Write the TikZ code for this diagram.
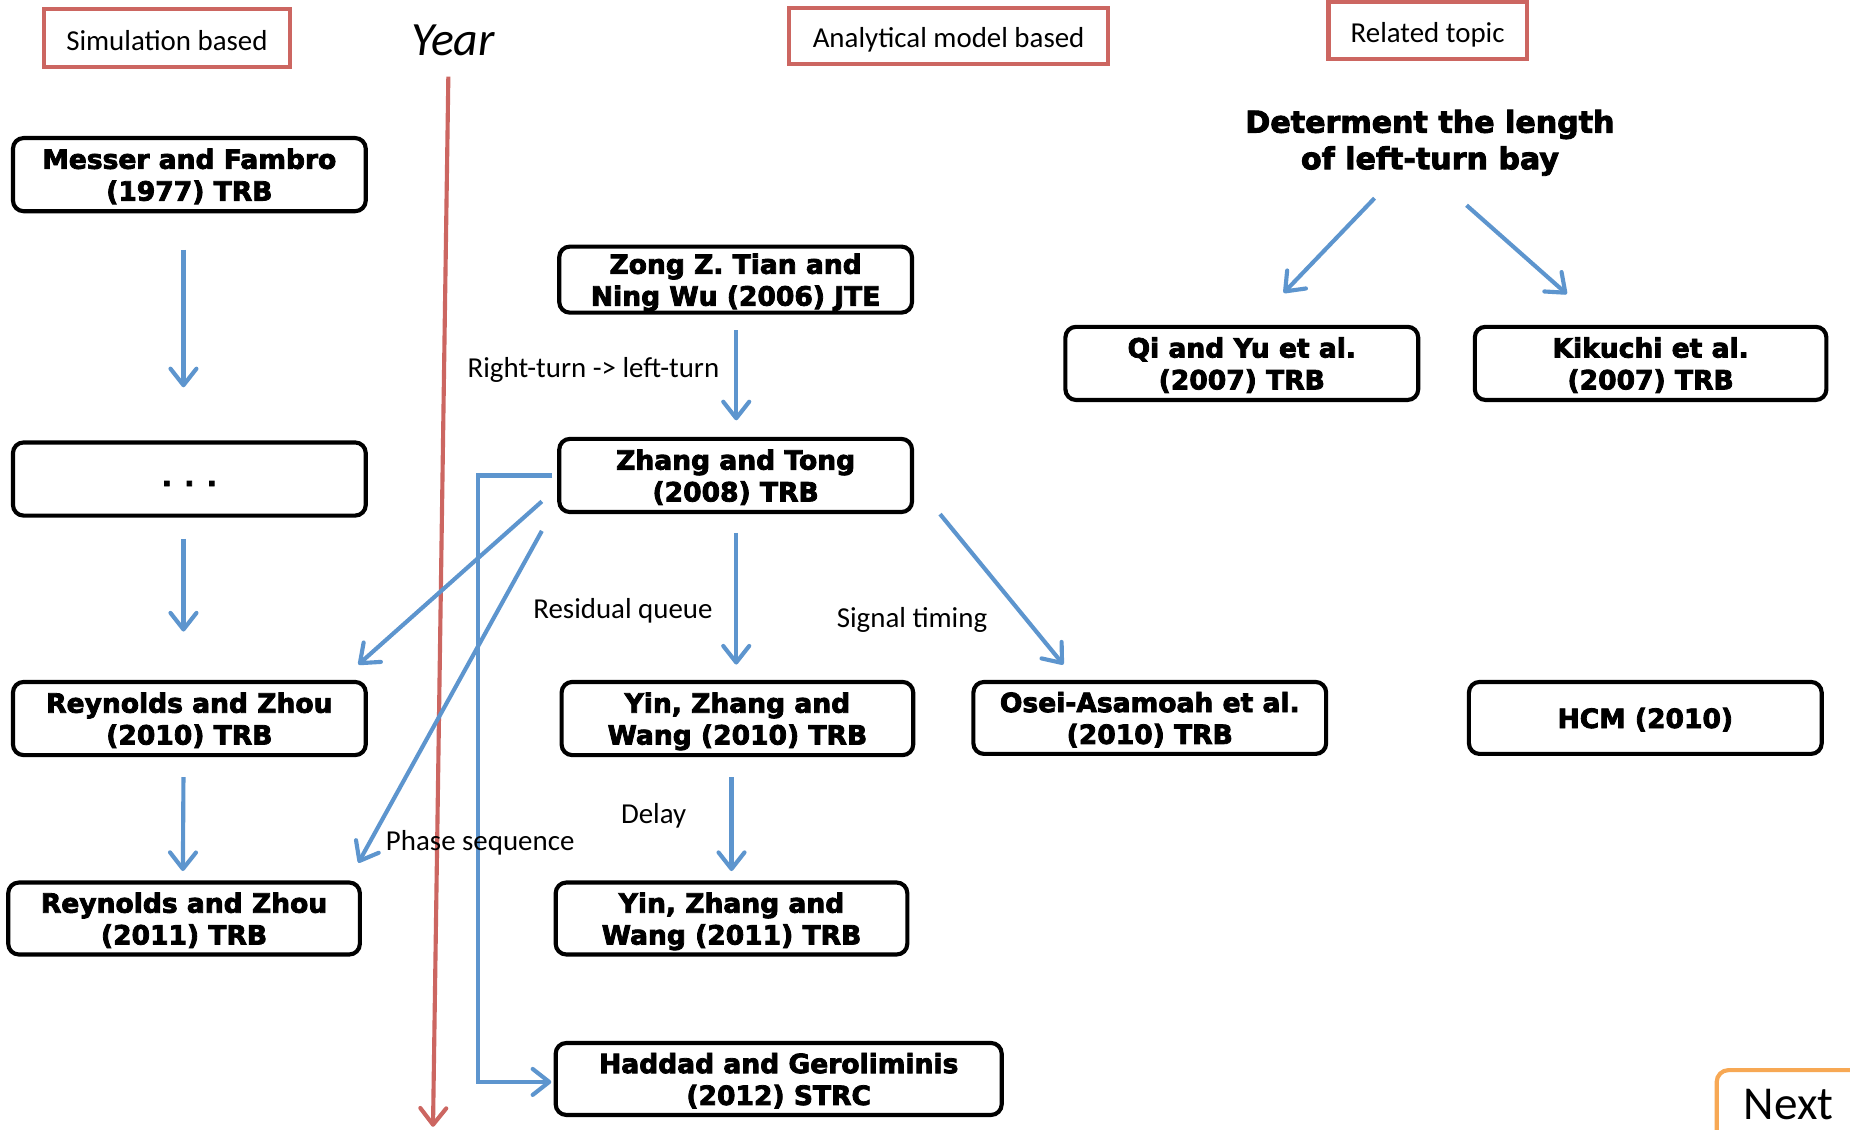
\documentclass[tikz,border=0pt]{standalone}
\usepackage{fontspec}
\setmainfont{Carlito}
\newfontfamily\boxfont{DejaVu Sans}[BoldFeatures={FakeBold=3}]
\usetikzlibrary{arrows.meta,calc}
\definecolor{hred}{RGB}{204,102,97}
\definecolor{ablue}{RGB}{93,149,206}
\definecolor{norange}{RGB}{247,168,84}
\tikzset{
  paper/.style={draw=black, line width=3.5pt, rounded corners=9pt, minimum width=299pt,
    minimum height=62pt, align=center, inner sep=0pt, text depth=0pt,
    font=\boxfont\bfseries\fontsize{22.5}{27}\selectfont},
  hdr/.style={draw=hred, line width=3.5pt, inner sep=0pt, text height=20pt, text depth=0pt,
    font=\fontsize{24.5}{29}\selectfont},
  lbl/.style={inner sep=0pt, font=\fontsize{24.5}{29}\selectfont},
  arr/.style={draw=ablue, line width=3.5pt,
    -{Straight Barb[length=14pt,width=22pt,round]}},
  yarr/.style={draw=hred, line width=3.5pt,
    -{Straight Barb[length=14pt,width=22pt,round]}}
}
\begin{document}
\begin{tikzpicture}[x=1pt,y=-1pt]
\useasboundingbox (0,0) rectangle (1568,957);
\fill[white] (0,0) rectangle (1568,957);

% header boxes
\node[hdr, minimum width=209pt, minimum height=49pt] (sim) at (141.5,32.5) {Simulation based};
\node[hdr, minimum width=270pt, minimum height=47pt] (ana) at (804,30.5) {Analytical model based};
\node[hdr, minimum width=168pt, minimum height=48pt] (rel) at (1210,26) {Related topic};
\node[inner sep=0pt, font=\itshape\fontsize{40.5}{46}\selectfont] (year) at (384,34.5) {Year};

% year line
\coordinate (yearend) at (367,955);
\draw[yarr] ($(year.center)+(-4,30.5)$) -- (yearend);

% papers
\node[paper] (mf) at (160.5,148) {Messer and Fambro\\(1977) TRB};
\node[paper, text height=12pt] (dots) at (160.5,406) {. . .};
\node[paper] (rz10) at (160.5,609) {Reynolds and Zhou\\(2010) TRB};
\node[paper, minimum width=298pt, minimum height=61pt] (rz11) at (156,778.5) {Reynolds and Zhou\\(2011) TRB};
\node[paper, minimum height=56pt] (zt) at (623.5,237) {Zong Z. Tian and\\Ning Wu (2006) JTE};
\node[paper] (zg) at (623.5,403) {Zhang and Tong\\(2008) TRB};
\node[paper, minimum width=298pt] (yz10) at (625,609) {Yin, Zhang and\\Wang (2010) TRB};
\node[paper, minimum width=298pt, minimum height=61pt] (yz11) at (620,778.5) {Yin, Zhang and\\Wang (2011) TRB};
\node[paper, minimum width=378pt, minimum height=61pt] (hg) at (660,914.5) {Haddad and Geroliminis\\(2012) STRC};
\node[paper, minimum height=61pt] (osei) at (974.5,608.5) {Osei-Asamoah et al.\\(2010) TRB};
\node[paper] (qi) at (1052.5,308) {Qi and Yu et al.\\(2007) TRB};
\node[paper, minimum width=298pt] (kik) at (1399,308) {Kikuchi et al.\\(2007) TRB};
\node[paper, minimum height=61pt] (hcm) at (1394.5,608.5) {HCM (2010)};

\node[inner sep=0pt, align=center, font=\boxfont\bfseries\fontsize{25.5}{31}\selectfont] (det) at (1212,121)
  {Determent the length\\of left-turn bay};

% labels
\node[lbl] (l1) at (503,313.5) {Right-turn -> left-turn};
\node[lbl] (l2) at (528,517.5) {Residual queue};
\node[lbl] (l3) at (554,691.5) {Delay};
\node[lbl] (l4) at (773,525.5) {Signal timing};

% arrows
\draw[arr] ($(mf.south)+(-5,31)$) -- ($(dots.north)+(-5,-45)$);
\draw[arr] ($(dots.south)+(-5,18)$) -- ($(rz10.north)+(-5,-41)$);
\draw[arr] ($(rz10.south)+(-5,17)$) -- ($(rz11.north)+(-1,-8)$);
\draw[arr] ($(zt.south)+(0.5,13)$) -- ($(zg.north)+(0.5,-14)$);
\draw[arr] ($(zg.south)+(0.5,16)$) -- ($(yz10.north)+(-1,-13)$);
\draw[arr] ($(yz10.south)+(-5,17)$) -- ($(yz11.north)+(0,-8)$);
\draw[arr] ($(zg.south east)+(22,0)$) -- ($(osei.north west)+(78,-13)$);
\draw[arr] ($(zg.west)+(-13,22)$) -- ($(rz10.north east)+(-8,-13)$);
\draw[arr] ($(zg.west)+(-13,47)$) -- ($(rz11.north east)+(-3,-15)$);
\draw[arr, line join=miter] ($(zg.west)+(-4,0)$) -- ++(-63,0) |- ($(hg.west)+(-2,2.5)$);
\draw[arr] ($(det.center)+(-47,47)$) -- ($(qi.north)+(35.5,-27)$);
\draw[arr] ($(det.center)+(31,53)$) -- ($(kik.north)+(-71,-26)$);

\node[lbl] (l5) at (407,714.5) {Phase sequence};

% next button
\begin{scope}
\clip (0,0) rectangle (1568,957);
\draw[norange, line width=3.5pt, rounded corners=10pt] (1455,907) rectangle (1640,1010);
\end{scope}
\node[inner sep=0pt, font=\fontsize{40}{46}\selectfont] (next) at (1516,936) {Next};
\end{tikzpicture}
\end{document}
